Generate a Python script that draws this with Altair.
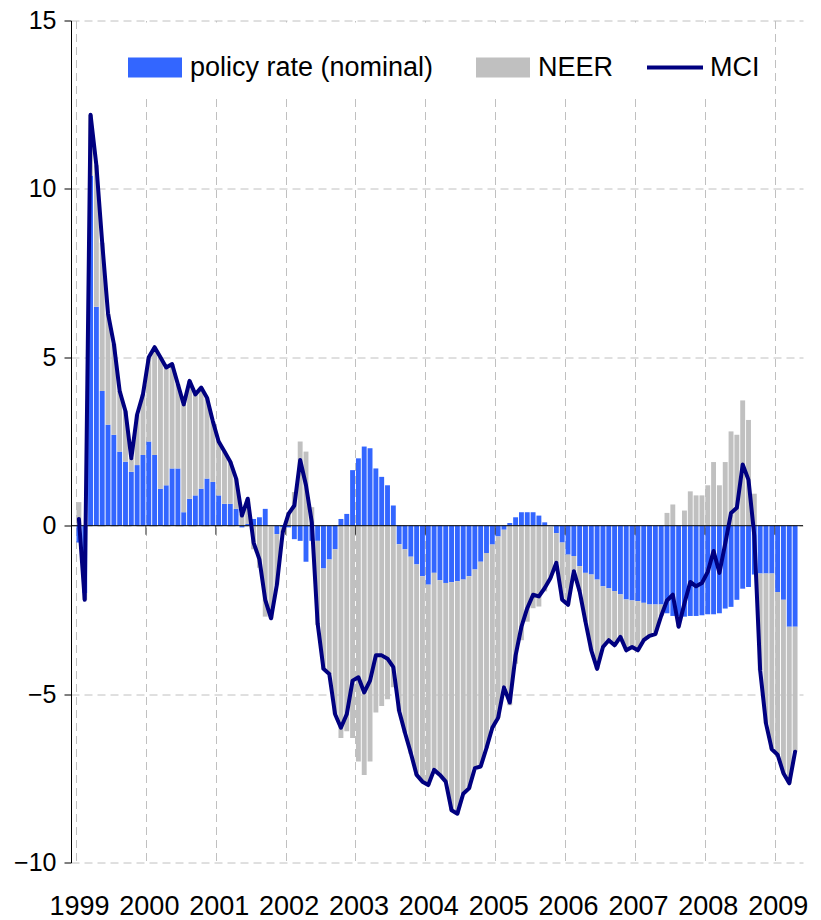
import json
import altair as alt
import pandas as pd

# ---- data (monthly, Jan 1999 .. Apr 2009) ----
years = ["1999", "2000", "2001", "2002", "2003", "2004", "2005", "2006", "2007", "2008", "2009"]
series_names = ["policy rate (nominal)", "NEER", "MCI"]

policy = [
    -0.5, -2.0, 10.4, 6.5, 4.0, 3.0, 2.7, 2.2, 1.9, 1.6, 1.8, 2.1,
    2.5, 2.1, 1.1, 1.2, 1.7, 1.7, 0.4, 0.8, 0.9, 1.1, 1.4, 1.3,
    0.9, 0.65, 0.65, 0.5, -0.05, 0.05, 0.2, 0.25, 0.5, 0.0, -0.25, -0.05,
    -0.05, -0.4, -0.45, -1.07, -0.45, -0.45, -1.27, -1.0, -0.7, 0.2, 0.35, 1.65,
    2.0, 2.35, 2.3, 1.7, 1.45, 1.2, 0.6, -0.55, -0.7, -0.92, -1.15, -1.5,
    -1.75, -1.4, -1.62, -1.7, -1.68, -1.65, -1.6, -1.5, -1.3, -1.07, -0.81, -0.56,
    -0.32, -0.12, 0.08, 0.25, 0.4, 0.4, 0.4, 0.3, 0.1, -0.02, -0.22, -0.5,
    -0.86, -0.9, -1.2, -1.4, -1.45, -1.6, -1.8, -1.86, -1.94, -2.04, -2.19, -2.22,
    -2.24, -2.29, -2.34, -2.34, -2.34, -2.6, -2.68, -2.7, -2.7, -2.68, -2.68, -2.66,
    -2.63, -2.63, -2.6, -2.46, -2.41, -2.2, -1.87, -1.82, -1.45, -1.42, -1.42, -1.42,
    -1.97, -2.2, -3.0, -3.0,
]

neer = [
    0.7, -0.2, 1.8, 4.2, 4.4, 3.3, 2.7, 1.8, 1.5, 0.4, 1.5, 1.8,
    2.5, 3.2, 3.9, 3.5, 3.1, 2.5, 3.2, 3.5, 3.0, 3.0, 2.4, 1.8,
    1.6, 1.55, 1.25, 0.9, 0.35, 0.75, -0.7, -1.25, -2.7, -2.75, -1.5, -0.15,
    0.4, 1.0, 2.5, 2.2, 0.55, -2.5, -3.0, -3.4, -4.9, -6.3, -6.1, -6.3,
    -7.0, -7.4, -7.0, -5.55, -5.35, -5.15, -4.8, -4.95, -5.45, -5.85, -6.25, -6.1,
    -5.95, -5.85, -5.78, -5.9, -6.77, -6.9, -6.36, -6.3, -5.9, -6.08, -5.8, -5.44,
    -5.38, -4.68, -5.33, -4.1, -3.4, -2.85, -2.45, -2.4, -1.95, -1.53, -0.88, -1.7,
    -1.49, -0.45, -0.75, -1.45, -2.25, -2.65, -1.8, -1.54, -1.61, -1.26, -1.51, -1.38,
    -1.46, -1.11, -0.93, -0.88, -0.34, 0.38, 0.63, -0.3, 0.45, 1.02, 0.9, 0.9,
    1.2, 1.89, 1.2, 1.89, 2.8, 2.7, 3.72, 3.14, 0.95, -2.87, -4.45, -5.22,
    -4.83, -5.15, -4.65, -3.71,
]

mci = [
    0.2, -2.2, 12.2, 10.7, 8.4, 6.3, 5.4, 4.0, 3.4, 2.0, 3.3, 3.9,
    5.0, 5.3, 5.0, 4.7, 4.8, 4.2, 3.6, 4.3, 3.9, 4.1, 3.8, 3.1,
    2.5, 2.2, 1.9, 1.4, 0.3, 0.8, -0.5, -1.0, -2.2, -2.75, -1.75, -0.2,
    0.35, 0.6, 1.95, 1.2, 0.1, -2.9, -4.25, -4.4, -5.6, -6.0, -5.6, -4.6,
    -4.5, -4.95, -4.6, -3.85, -3.85, -3.95, -4.2, -5.5, -6.15, -6.75, -7.4, -7.6,
    -7.7, -7.25, -7.4, -7.6, -8.45, -8.55, -7.96, -7.8, -7.2, -7.15, -6.6, -6.0,
    -5.7, -4.8, -5.25, -3.85, -3.0, -2.45, -2.05, -2.1, -1.85, -1.55, -1.1, -2.2,
    -2.35, -1.35, -1.95, -2.85, -3.7, -4.25, -3.6, -3.4, -3.55, -3.3, -3.7, -3.6,
    -3.7, -3.4, -3.27, -3.22, -2.68, -2.22, -2.05, -3.0, -2.3, -1.67, -1.8, -1.7,
    -1.37, -0.75, -1.4, -0.53, 0.38, 0.53, 1.82, 1.36, -0.3, -4.29, -5.87, -6.64,
    -6.8, -7.35, -7.65, -6.71,
]

y_ticks = [-10, -5, 0, 5, 10, 15]
zero_line = [0]

n = len(mci)
months = list(range(n))
year_starts = [12 * k - 0.5 for k in range(len(years))]

bars_df = pd.DataFrame({
    "m": months + months,
    "series": [series_names[0]] * n + [series_names[1]] * n,
    "ord": [0] * n + [1] * n,
    "v": policy + neer,
})
line_df = pd.DataFrame({"m": months, "series": [series_names[2]] * n, "v": mci})
tick_df = pd.DataFrame({"b": year_starts[1:]})
zero_df = pd.DataFrame({"z": zero_line})

FONT = "Liberation Sans"
GRID = "#c0c0c0"

x_scale = alt.Scale(domain=[-0.5, n - 0.5], nice=False, zero=False)
y_scale = alt.Scale(domain=[y_ticks[0], y_ticks[-1]], nice=False, zero=False)

x_axis = alt.Axis(
    values=year_starts,
    labelExpr=json.dumps(years) + "[round((datum.value + 0.5) / 12)]",
    labelOffset=3,
    labelFlush=False,
    labelOverlap=False,
    labelBound=False,
    grid=True, gridDash=[8, 5], gridColor=GRID, gridWidth=1,
    ticks=False, tickSize=0, domain=False,
    labelPadding=52, labelBaseline="alphabetic",
    labelFontSize=27, labelFont=FONT, labelColor="black",
    title=None,
)
y_axis = alt.Axis(
    values=y_ticks,
    grid=True, gridDash=[8, 5], gridColor=GRID, gridWidth=1,
    domain=True, domainColor="black", domainWidth=1,
    ticks=True, tickSize=7, tickColor="black",
    labelPadding=8, labelFontSize=25, labelFont=FONT, labelColor="black",
    title=None,
)

bars = alt.Chart(bars_df).mark_bar(size=4.9).encode(
    x=alt.X("m:Q", scale=x_scale, axis=x_axis),
    y=alt.Y("v:Q", scale=y_scale, axis=y_axis, stack="zero"),
    color=alt.Color(
        "series:N",
        scale=alt.Scale(domain=series_names[:2], range=["#3366FF", "#C0C0C0"]),
        legend=alt.Legend(
            title=None, orient="none", legendX=39, legendY=2,
            direction="horizontal", columns=2,
            symbolType="M-1,-0.37L1,-0.37L1,0.37L-1,0.37Z", symbolSize=2916,
            symbolStrokeWidth=0, symbolOpacity=1,
            labelFontSize=27, labelFont=FONT, labelColor="black", labelLimit=400,
            labelOffset=8, columnPadding=42, padding=18, fillColor="white",
        ),
    ),
    order=alt.Order("ord:Q"),
)

zero = alt.Chart(zero_df).mark_rule(color="black", strokeWidth=1).encode(
    y=alt.Y("z:Q", scale=y_scale)
)

ticks = alt.Chart(tick_df).mark_tick(
    orient="vertical", size=9, thickness=1, color="black", yOffset=4.5
).encode(
    x=alt.X("b:Q", scale=x_scale),
    y=alt.datum(0),
)

line = alt.Chart(line_df).mark_line(strokeWidth=4, strokeJoin="round", strokeCap="round").encode(
    x=alt.X("m:Q", scale=x_scale),
    y=alt.Y("v:Q", scale=y_scale),
    stroke=alt.Stroke(
        "series:N",
        scale=alt.Scale(domain=[series_names[2]], range=["#000080"]),
        legend=alt.Legend(
            title=None, orient="none", legendX=559, legendY=2,
            symbolType="stroke", symbolSize=3136, symbolStrokeWidth=4,
            labelFontSize=27, labelFont=FONT, labelColor="black",
            labelOffset=5, padding=15, fillColor="white",
        ),
    ),
)

chart = alt.layer(bars, zero, ticks, line).resolve_scale(
    color="independent"
).properties(
    width=732,
    height=842,
    autosize=alt.AutoSizeParams(type="none"),
    padding={"left": 63, "top": 12.5, "right": 10, "bottom": 58},
).configure_view(stroke="transparent")

chart.save("out.html", embed_options={"renderer": "svg", "actions": False})
